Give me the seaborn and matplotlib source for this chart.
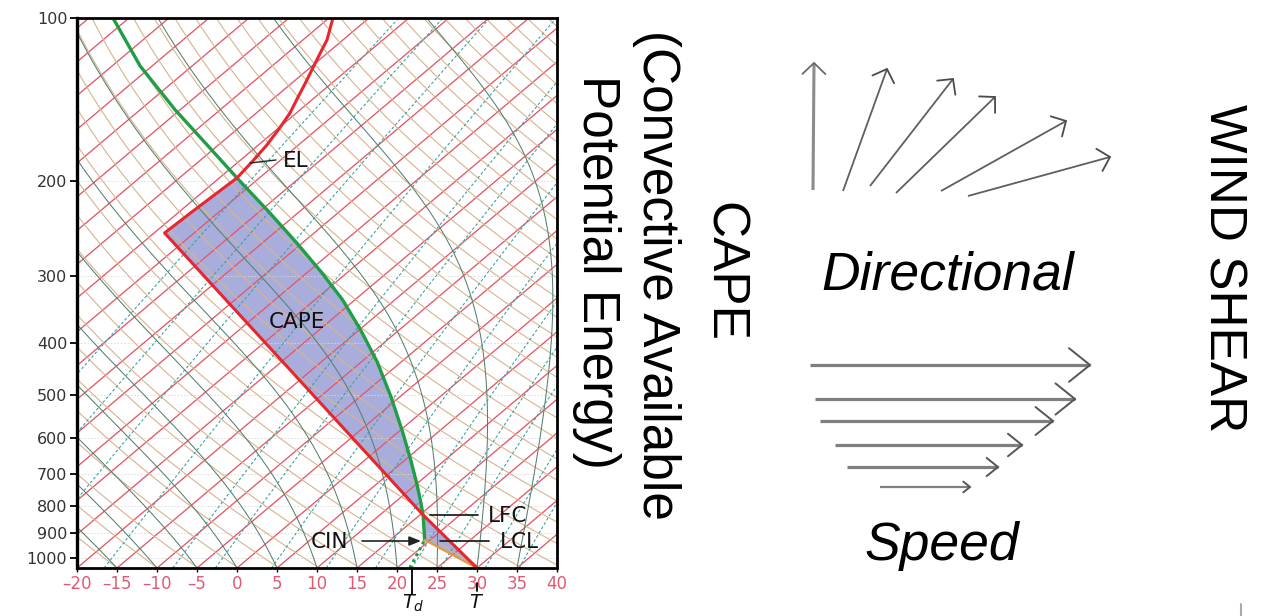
import numpy as np
import pandas as pd
import matplotlib
matplotlib.use("Agg")
import matplotlib.pyplot as plt
import seaborn as sns

# ------------------------------------------------------------------ data
P_BOTTOM = 1044.0          # hPa at the lower edge of the diagram
SKEW = 80.0                # degC of skew per decade of pressure
temp_ticks = [-20, -15, -10, -5, 0, 5, 10, 15, 20, 25, 30, 35, 40]
pressure_ticks = [100, 200, 300, 400, 500, 600, 700, 800, 900, 1000]

# environmental temperature sounding (hPa, degC)
env_p = [1044, 832.6, 250.1, 228.7, 197.8, 184.8, 172.6, 160.6, 149.9, 141.9, 131.4, 123.2, 116.1, 109.8, 100]
env_T = [30.0, 15.4, -58.7, -58.4, -57.8, -58.3, -58.9, -59.8, -60.8, -61.9, -63.4, -64.7, -65.9, -67.0, -69.5]
LFC_IDX, EL_IDX = 1, 4

# lifted parcel path: surface, LCL, LFC, ..., EL, ..., top
parcel_p = [1044, 926.2, 832.6, 791.0, 732.5, 658.4, 579.5, 503.3, 433.6, 378.4, 332.9,
            296.6, 261.0, 227.8, 197.8, 171.9, 148.0, 122.7, 100]
parcel_T = [30.0, 19.3, 15.4, 13.35, 10.2, 5.7, 0.17, -6.1, -13.0, -19.8, -26.5,
            -33.1, -40.7, -49.0, -57.8, -66.4, -75.6, -86.5, -97.0]
P_LFC_IDX, P_EL_IDX = 2, 14

# surface dew point rising along its mixing-ratio line to the LCL
dew_p = [1044, 926.2]
dew_T = [21.6, 19.3]

# background line families
isotherm_T = list(range(-110, 45, 5))
dry_theta_K = list(range(245, 460, 5))
moist_T0 = list(range(-20, 45, 5))
mixing_ratio_gkg = [0.1, 0.2, 0.4, 1, 2, 3, 5, 8, 12, 16, 20, 28, 36]

# wind shear sketch (pixel space of the figure)
dir_tail_x = [813, 843, 870, 896, 941, 968]
dir_tail_y = [190, 191, 186, 193, 191, 196]
dir_head_x = [814, 887, 953, 995, 1066, 1110]
dir_head_y = [63, 69, 79, 97, 121, 157]

speed_tail_x = [810, 815, 820, 835, 847, 880]
speed_head_x = [1090, 1075, 1053, 1022, 998, 970]
speed_y = [365, 399, 421, 445, 467, 487]

# ------------------------------------------------------------------ style
sns.set_theme(style="white")
plt.rcParams["font.family"] = ["Liberation Sans", "DejaVu Sans"]
plt.rcParams["mathtext.fontset"] = "custom"
plt.rcParams["mathtext.it"] = "DejaVu Sans:italic"
plt.rcParams["mathtext.rm"] = "DejaVu Sans"

RED = "#e8262d"
GREEN = "#1f9e46"
FILL = "#a9addb"
ISO = "#e4566a"
DRY = "#d6b48e"
MOIST = "#55806e"
MIX = "#3aa3a0"
SMALL_FONT = ["DejaVu Sans"]


def skew(T, p):
    return np.asarray(T, float) + SKEW * np.log10(P_BOTTOM / np.asarray(p, float))


def moist_adiabat(T0c, p_levels):
    Rd, cp, Lv, eps = 287.04, 1005.7, 2.501e6, 0.622

    def slope(Tk, p):
        tc = Tk - 273.15
        es = 6.112 * np.exp(17.67 * tc / (tc + 243.5))
        rs = eps * es / (p - es)
        return (Rd * Tk + Lv * rs) / (p * (cp + Lv * Lv * rs * eps / (Rd * Tk * Tk)))

    T = T0c + 273.15
    out = [T]
    for i in range(1, len(p_levels)):
        p0, p1 = p_levels[i - 1], p_levels[i]
        dp = p1 - p0
        k1 = slope(T, p0)
        k2 = slope(T + dp * k1, p1)
        T = T + dp * 0.5 * (k1 + k2)
        out.append(T)
    return np.array(out) - 273.15


fig = plt.figure(figsize=(12.8, 6.16), dpi=100)
fig.patch.set_facecolor("white")
ax = fig.add_axes([77 / 1280, 48 / 616, 480 / 1280, 550 / 616])
ax.set_facecolor("white")
ax.set_yscale("log")

plev = np.linspace(P_BOTTOM, 100, 300)

# isobars
for p in pressure_ticks[1:]:
    ax.plot([-20, 40], [p, p], color="#d9d9d9", lw=0.6, ls=(0, (2, 2)), zorder=2)
# isotherms
for t in isotherm_T:
    ax.plot(skew([t, t], [P_BOTTOM, 100]), [P_BOTTOM, 100], color=ISO, lw=0.95, zorder=2)
# dry adiabats
for th in dry_theta_K:
    Tk = th * (plev / 1000.0) ** 0.2857 - 273.15
    ax.plot(skew(Tk, plev), plev, color=DRY, lw=0.8, zorder=2)
# moist adiabats
for t0 in moist_T0:
    Tm = moist_adiabat(t0, plev)
    ax.plot(skew(Tm, plev), plev, color=MOIST, lw=0.75, zorder=2)
# mixing ratio lines
for w in mixing_ratio_gkg:
    e = (w / 1000.0) * plev / (0.622 + w / 1000.0)
    le = np.log(e / 6.112)
    Td = 243.5 * le / (17.67 - le)
    ax.plot(skew(Td, plev), plev, color=MIX, lw=0.8, ls=(0, (2.5, 2)), zorder=2)

# CAPE area: environment LFC->EL, parcel EL->LFC
cape_p = env_p[LFC_IDX:EL_IDX + 1] + parcel_p[P_LFC_IDX:P_EL_IDX + 1][::-1]
cape_T = env_T[LFC_IDX:EL_IDX + 1] + parcel_T[P_LFC_IDX:P_EL_IDX + 1][::-1]
ax.fill(skew(cape_T, cape_p), cape_p, color=FILL, lw=0, zorder=1)
# CIN area: parcel surface->LCL->LFC, environment back to surface
cin_p = parcel_p[0:3] + [env_p[0]]
cin_T = parcel_T[0:3] + [env_T[0]]
ax.fill(skew(cin_T, cin_p), cin_p, color=FILL, lw=0, zorder=1)

# curves
env_df = pd.DataFrame({"x": skew(env_T, env_p), "p": env_p})
sns.lineplot(data=env_df, x="x", y="p", sort=False, estimator=None,
             color=RED, lw=2.2, ax=ax, zorder=6)
par_df = pd.DataFrame({"x": skew(parcel_T[1:], parcel_p[1:]), "p": parcel_p[1:]})
sns.lineplot(data=par_df, x="x", y="p", sort=False, estimator=None,
             color=GREEN, lw=2.4, ax=ax, zorder=5)
ax.plot(skew(parcel_T[0:2], parcel_p[0:2]), parcel_p[0:2], color="#e39a3c", lw=1.6, zorder=5)
ax.plot(skew(dew_T, dew_p), dew_p, color=GREEN, lw=2.2, ls=(0, (1, 1.2)), zorder=5)

ax.set_xlim(-20, 40)
ax.set_ylim(P_BOTTOM, 100)
ax.set_xlabel("")
ax.set_ylabel("")
ax.set_xticks(temp_ticks)
ax.set_xticklabels([f"{t}".replace("-", "\u2013") for t in temp_ticks], color="#e05a74",
                   fontsize=12, family=SMALL_FONT)
ax.set_yticks(pressure_ticks)
ax.set_yticklabels([str(p) for p in pressure_ticks], color="#333333", fontsize=11.5, family=SMALL_FONT)
ax.yaxis.set_minor_locator(matplotlib.ticker.NullLocator())
ax.tick_params(axis="y", direction="out", length=5, width=1.3, color="black", pad=2, left=True)
ax.tick_params(axis="x", direction="out", length=3, width=1.0, color="black", pad=2, bottom=True)
for side, lw in [("left", 2.4), ("bottom", 2.0), ("top", 2.0), ("right", 2.0)]:
    ax.spines[side].set_color("black")
    ax.spines[side].set_linewidth(lw)
    ax.spines[side].set_zorder(8)

# ------------------------------------------------------------------ overlay (pixel space)
ov = fig.add_axes([0, 0, 1, 1], facecolor="none")
ov.set_xlim(0, 1280)
ov.set_ylim(616, 0)
ov.axis("off")

lab = dict(fontsize=15.5, color="#111111", family=SMALL_FONT)
ov.plot([250, 276], [163, 160], color="#222222", lw=1.0)
ov.text(283, 161, "EL", ha="left", va="center", **lab)
ov.text(297, 322, "CAPE", ha="center", va="center", **lab)
ov.plot([430, 478], [515, 515], color="#222222", lw=1.3)
ov.text(488, 516, "LFC", ha="left", va="center", **lab)
ov.plot([440, 489], [541, 541], color="#222222", lw=1.3)
ov.text(500, 542, "LCL", ha="left", va="center", **lab)
ov.text(330, 542, "CIN", ha="center", va="center", **lab)
ov.annotate("", xy=(421, 541), xytext=(362, 541),
            arrowprops=dict(arrowstyle="-|>,head_length=0.5,head_width=0.2", color="#222222", lw=1.2,
                            shrinkA=0, shrinkB=0, mutation_scale=14))

# T and Td markers below the axis
ov.plot([412, 412], [569, 594], color="black", lw=1.3)
ov.plot([477, 477], [583, 591], color="black", lw=1.3)
ov.text(413, 603, "$T_d$", ha="center", va="center", fontsize=14, color="#111111")
ov.text(477, 603, "$T$", ha="center", va="center", fontsize=14, color="#111111")

# rotated titles
big = dict(fontsize=37, color="black", rotation=-90, ha="center", va="center")
ov.text(723, 272, "CAPE", **big)
ov.text(656, 275, "(Convective Available", **big)
ov.text(597, 272, "Potential Energy)", **big)
ov.text(1223, 268, "WIND SHEAR", **big)
ov.text(948, 289, "Directional", fontsize=38.5, style="italic", ha="center", va="baseline", color="black")
ov.text(942, 560, "Speed", fontsize=38.5, style="italic", ha="center", va="baseline", color="black")


def draw_arrow(x0, y0, x1, y1, hl, hw, shaft_color, head_color, lw_shaft, lw_head):
    d = np.array([x1 - x0, y1 - y0], float)
    u = d / np.hypot(*d)
    n = np.array([-u[1], u[0]])
    ov.plot([x0, x1], [y0, y1], color=shaft_color, lw=lw_shaft, solid_capstyle="butt")
    w1 = np.array([x1, y1]) - hl * u + hw * n
    w2 = np.array([x1, y1]) - hl * u - hw * n
    ov.plot([w1[0], x1, w2[0]], [w1[1], y1, w2[1]], color=head_color, lw=lw_head,
            solid_joinstyle="miter")


for i in range(len(dir_tail_x)):
    vertical = i == 0
    draw_arrow(dir_tail_x[i], dir_tail_y[i], dir_head_x[i], dir_head_y[i], 11, 11.5,
               "#8c8c8c" if vertical else "#5f5f5f", "#6a6a6a" if vertical else "#4a4a4a",
               2.2 if vertical else 1.3, 1.3)

for i in range(len(speed_y)):
    L = speed_head_x[i] - speed_tail_x[i]
    draw_arrow(speed_tail_x[i], speed_y[i], speed_head_x[i], speed_y[i], 0.075 * L, 0.06 * L,
               "#7f7f7f", "#555555", 2.3 if L > 100 else 1.6, 1.4)

ov.plot([1241, 1241], [604, 616], color="#aaaaaa", lw=1.5)

fig.savefig("out.png", dpi=100, facecolor="white")
